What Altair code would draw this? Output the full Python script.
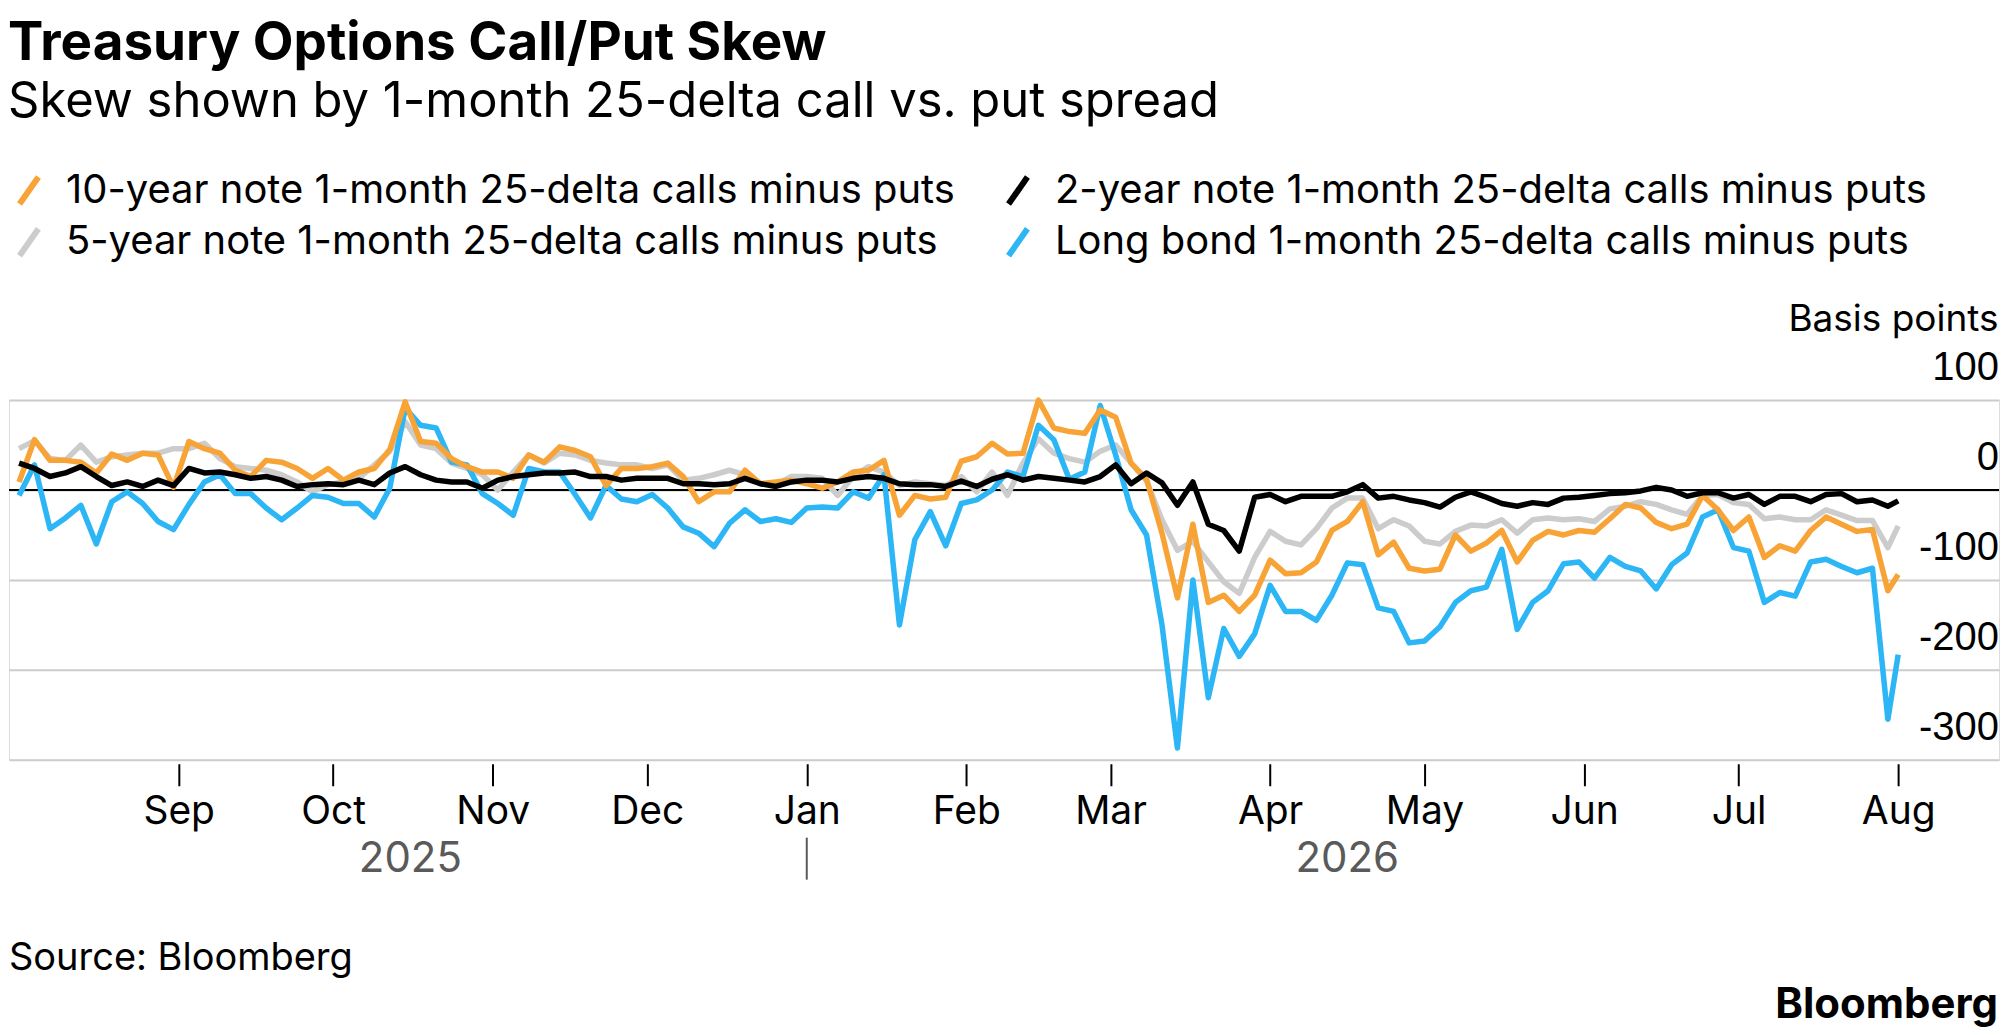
import altair as alt
import pandas as pd

# ---------------- data ----------------
S10 = "10-year note 1-month 25-delta calls minus puts"
S2 = "2-year note 1-month 25-delta calls minus puts"
S5 = "5-year note 1-month 25-delta calls minus puts"
SL = "Long bond 1-month 25-delta calls minus puts"

dates = list(pd.date_range("2025-08-01", "2026-07-30", freq="3D").strftime("%Y-%m-%d")) + ["2026-08-01"]

ten_year = [
    9, 56, 33, 33, 31, 19, 40, 33, 41, 39,
    3, 54, 46, 41, 22, 15, 33, 31, 24, 13,
    24, 11, 20, 24, 45, 98, 54, 52, 35, 26,
    20, 20, 13, 39, 31, 48, 44, 37, 5, 24,
    24, 26, 30, 15, -13, -2, -2, 22, 7, 9,
    11, 7, 2, 9, 20, 22, 33, -28, -6, -10,
    -8, 32, 37, 52, 40, 41, 100, 69, 65, 63,
    89, 81, 30, 12, -48, -120, -38, -125, -117, -135,
    -117, -78, -93, -92, -80, -45, -35, -13, -72, -58,
    -87, -90, -88, -50, -68, -59, -45, -80, -56, -46,
    -50, -45, -47, -32, -16, -20, -36, -43, -38, -6,
    -22, -45, -30, -75, -62, -68, -45, -30, -38, -46,
    -44, -112, -94,
]
five_year = [
    46, 55, 35, 33, 50, 31, 37, 39, 41, 41,
    46, 46, 52, 35, 26, 24, 22, 17, 9, -2,
    6, 9, 13, 28, 43, 76, 50, 46, 30, 24,
    17, 0, 20, 39, 30, 41, 39, 33, 30, 28,
    28, 24, 28, 11, 13, 17, 22, 17, 7, 6,
    15, 15, 13, -6, 15, 26, 20, 5, 9, 7,
    5, 15, -2, 20, -6, 30, 57, 41, 35, 31,
    43, 50, 30, 10, -33, -67, -57, -80, -102, -115,
    -75, -46, -57, -61, -43, -20, -9, -9, -43, -33,
    -40, -57, -60, -46, -39, -40, -33, -48, -33, -31,
    -33, -32, -35, -21, -18, -13, -16, -22, -27, -6,
    -5, -14, -16, -32, -30, -33, -33, -22, -28, -34,
    -34, -64, -40,
]
two_year = [
    30, 24, 15, 19, 26, 15, 5, 9, 4, 11,
    5, 24, 19, 20, 17, 13, 15, 11, 4, 6,
    7, 6, 11, 6, 19, 26, 17, 11, 9, 9,
    2, 11, 15, 17, 19, 19, 20, 15, 15, 11,
    13, 13, 13, 7, 7, 6, 7, 13, 7, 4,
    9, 11, 11, 9, 13, 15, 13, 7, 6, 6,
    4, 10, 4, 12, 17, 11, 15, 13, 11, 9,
    15, 28, 7, 19, 8, -17, 9, -38, -45, -68,
    -8, -5, -13, -7, -7, -7, -2, 6, -9, -7,
    -11, -14, -19, -8, -2, -8, -15, -18, -14, -16,
    -9, -8, -6, -4, -3, -1, 3, 0, -7, -3,
    -3, -9, -5, -16, -7, -7, -13, -5, -4, -13,
    -11, -18, -12,
]
long_bond = [
    -6, 28, -43, -31, -17, -60, -13, -2, -15, -35,
    -44, -16, 9, 17, -4, -4, -20, -33, -20, -6,
    -8, -15, -15, -30, 2, 91, 72, 69, 31, 28,
    -4, -15, -28, 24, 20, 20, -5, -31, 5, -10,
    -13, -5, -20, -41, -48, -63, -37, -22, -35, -32,
    -36, -20, -19, -20, -2, -9, 17, -150, -55, -24,
    -62, -15, -11, 0, 20, 15, 72, 56, 12, 20,
    94, 39, -22, -50, -150, -287, -100, -231, -154, -185,
    -160, -106, -135, -135, -145, -117, -81, -83, -131, -135,
    -170, -168, -152, -125, -112, -108, -66, -155, -125, -112,
    -82, -80, -98, -75, -85, -90, -110, -83, -70, -30,
    -22, -64, -68, -125, -114, -118, -80, -77, -85, -92,
    -87, -255, -183,
]

series_names = [S10, S2, S5, SL]
series_colors = ["#f7a336", "#000000", "#cccccc", "#2db6f5"]
draw_order = [S5, SL, S10, S2]

month_ticks = [(2025, 9), (2025, 10), (2025, 11), (2025, 12), (2026, 1), (2026, 2),
               (2026, 3), (2026, 4), (2026, 5), (2026, 6), (2026, 7), (2026, 8)]
year_labels = ["2025", "2026"]
year_label_dates = ["2025-10-16", "2026-04-16"]
year_divider_date = ["2026-01-01"]
y_ticks = [-300, -200, -100, 0, 100]
y_tick_labels = ["-300", "-200", "-100", "0", "100"]

# ---------------- build table ----------------
rows = []
for name, vals in [(S10, ten_year), (S2, two_year), (S5, five_year), (SL, long_bond)]:
    n = min(len(vals), len(dates))
    for i in range(n):
        rows.append({"date": dates[i], "value": vals[i], "series": name})
df = pd.DataFrame(rows)

FONT = "Inter"
NUMFONT = "Liberation Sans"
W, H = 1992, 360

x_enc = alt.X(
    "date:T",
    scale=alt.Scale(domain=[alt.DateTime(year=2025, month=7, date=30, hours=1),
                            alt.DateTime(year=2026, month=8, date=20, hours=14)]),
    axis=alt.Axis(
        values=[alt.DateTime(year=y, month=m, date=1) for y, m in month_ticks],
        format="%b", title=None, grid=False, domain=False,
        ticks=True, tickSize=22, tickWidth=2, tickColor="black", offset=4,
        labelFont=FONT, labelFontSize=39, labelColor="black",
        labelPadding=38, labelBaseline="alphabetic", labelOverlap=False,
    ),
)

y_enc = alt.Y(
    "value:Q",
    scale=alt.Scale(domain=[-300, 100], nice=False, zero=False),
    axis=alt.Axis(
        orient="right", values=y_ticks, grid=True, gridColor="#cccccc", gridWidth=2,
        domain=False, ticks=False, tickSize=0, labels=False,
        title="Basis points", titleAngle=0, titleAlign="right", titleBaseline="alphabetic",
        titleX=-1, titleY=-70, titleFont=FONT, titleFontSize=37, titleFontWeight="normal",
        titleColor="black",
    ),
)

color_enc = alt.Color(
    "series:N",
    scale=alt.Scale(domain=series_names, range=series_colors),
    legend=alt.Legend(
        title=None, orient="top", columns=2, direction="horizontal",
        symbolType="M-0.7,1L0.7,-1", symbolSize=729, symbolStrokeWidth=6,
        labelFont=FONT, labelFontSize=40, labelColor="black", labelLimit=3000,
        labelOffset=17, columnPadding=40, rowPadding=0, padding=0, offset=129,
    ),
)

base = alt.Chart(df).mark_line(strokeWidth=5.5, strokeJoin="round").encode(
    x=x_enc, y=y_enc, color=color_enc
)
line_layers = [base.transform_filter(alt.datum.series == s) for s in draw_order]

zero_rule = alt.Chart(pd.DataFrame({"v": [0]})).mark_rule(color="black", strokeWidth=2).encode(
    y=alt.datum(0)
)

# value labels of the y axis, right-aligned inside the plot, just above each grid line
y_labels = alt.Chart(pd.DataFrame({"value": y_ticks, "t": y_tick_labels})).mark_text(
    font=NUMFONT, fontSize=40, color="black", align="right", baseline="alphabetic", dy=-20
).encode(x=alt.value(W), y=y_enc, text="t:N")

years = alt.Chart(pd.DataFrame({"date": year_label_dates, "label": year_labels})).mark_text(
    font=FONT, fontSize=42, color="#5a5a5a", baseline="alphabetic", align="center"
).encode(x=x_enc, y=alt.value(472), text="label:N")

divider = alt.Chart(pd.DataFrame({"date": year_divider_date})).mark_rule(
    color="#5a5a5a", strokeWidth=2
).encode(x=x_enc, y=alt.value(438), y2=alt.value(480))

source = alt.Chart(pd.DataFrame({"t": ["Source: Bloomberg"]})).mark_text(
    font=FONT, fontSize=38, color="black", align="left", baseline="alphabetic"
).encode(x=alt.value(0), y=alt.value(570), text="t:N")

logo = alt.Chart(pd.DataFrame({"t": ["Bloomberg"]})).mark_text(
    font=FONT, fontSize=42, fontWeight="bold", color="black", align="right", baseline="alphabetic"
).encode(x=alt.value(W - 1), y=alt.value(618), text="t:N")

chart = alt.layer(
    zero_rule, *line_layers, y_labels, years, divider, source, logo
).properties(
    width=W, height=H,
    padding={"left": 0, "top": 10, "right": 2, "bottom": 4},
    title=alt.TitleParams(
        text="Treasury Options Call/Put Skew",
        subtitle="Skew shown by 1-month 25-delta call vs. put spread",
        anchor="start", font=FONT, fontSize=53, fontWeight="bold", color="black",
        subtitleFont=FONT, subtitleFontSize=49, subtitleColor="black",
        subtitlePadding=7, offset=43,
    ),
).configure_view(stroke=None).configure(background="white")

chart.save("out.html", embed_options={"renderer": "svg", "actions": False})
